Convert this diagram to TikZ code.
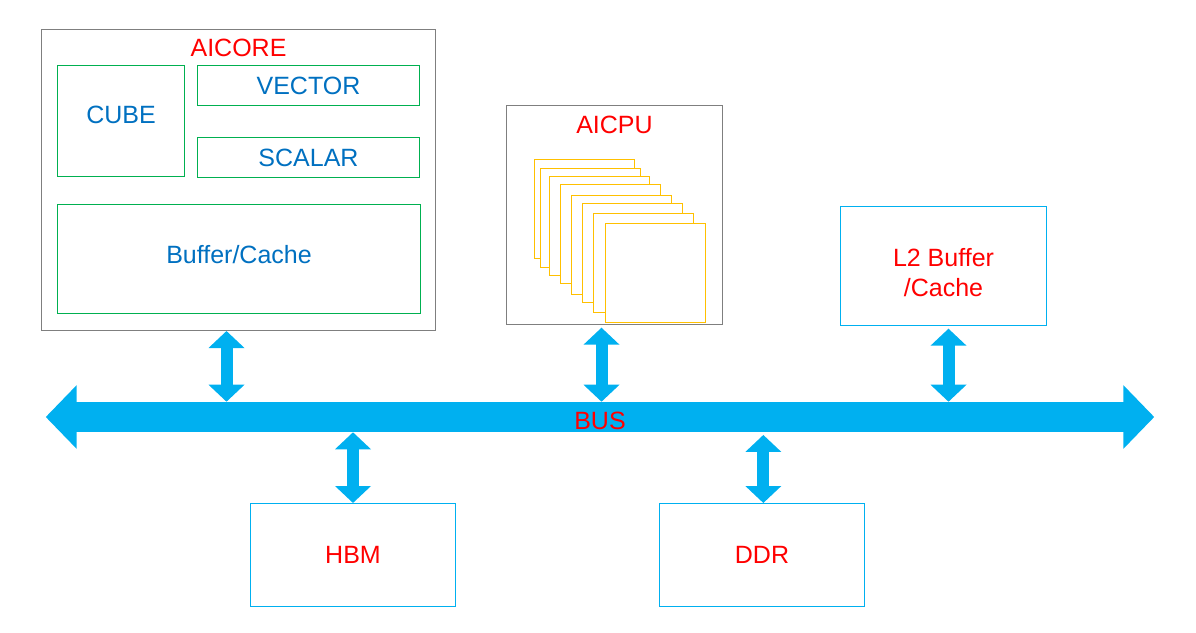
\documentclass[tikz,border=0pt]{standalone}
\usepackage{fontspec}
\setmainfont{Liberation Sans}
\usepackage{tikz}
\usetikzlibrary{arrows.meta}
\usetikzlibrary{positioning}
\definecolor{busblue}{HTML}{00B0F0}
\definecolor{txtblue}{HTML}{0070C0}
\definecolor{boxgreen}{HTML}{00B050}
\definecolor{coreyellow}{HTML}{FFC000}
\definecolor{boxgray}{HTML}{7F7F7F}
\tikzset{
  big font/.style={font=\fontsize{18.75}{22.5}\selectfont},
  outer box/.style={draw=boxgray,line width=0.75pt,anchor=north west,inner sep=0pt},
  unit box/.style={draw=boxgreen,line width=0.75pt,anchor=north west,inner sep=0pt,text=txtblue,big font},
  unit text/.style={text=txtblue,big font},
  mem box/.style={draw=busblue,line width=0.75pt,anchor=north west,inner sep=0pt,text=red,align=center,big font},
  core/.style={draw=coreyellow,fill=white,line width=0.75pt,anchor=north west,inner sep=0pt,minimum width=75pt,minimum height=74.25pt},
  title/.style={text=red,big font},
  link/.style={busblue,line width=9pt,{Triangle[width=26.25pt,length=12.75pt]}-{Triangle[width=26.25pt,length=12.75pt]}},
  bus/.style={busblue,line width=22.5pt,{Triangle[width=46.5pt,length=23.25pt]}-{Triangle[width=46.5pt,length=23.25pt]}}
}
\begin{document}
\begin{tikzpicture}[x=0.75pt,y=-0.75pt]
  \useasboundingbox (0,0) rectangle (1196,632);
  \node[outer box,minimum width=295.5pt,minimum height=225.75pt] (aicore) at (41,29) {};
  \node[title] (aicoret) at ([yshift=-14.25pt]aicore.north) {AICORE};
  \node[unit box,minimum width=95.25pt,minimum height=83.25pt,label={[unit text,yshift=4.5pt]center:CUBE}] (cube) at (57,65) {};
  \node[unit box,minimum width=166.5pt,minimum height=30pt] (vector) at (197,65) {VECTOR};
  \node[unit box,minimum width=166.5pt,minimum height=30pt] (scalar) at (197,137) {SCALAR};
  \node[unit box,minimum width=272.25pt,minimum height=81.75pt,label={[unit text,yshift=3pt]center:Buffer/Cache}] (buffer) at (57,204) {};
  \node[outer box,minimum width=162pt,minimum height=164.25pt] (aicpu) at (506,105) {};
  \node[title] (aicput) at ([yshift=-15pt]aicpu.north) {AICPU};
  \foreach \x/\y [count=\i] in {534/159,540/168,549/176,560/184,571/195,582/203,593/213,605/223}
    \node[core] (cpu\i) at (\x,\y) {};
  \node[mem box,minimum width=154.5pt,minimum height=89.25pt,label={[title,align=center,yshift=-5.25pt]center:L2 Buffer\\/Cache}] (l2) at (840,206) {};
  \node[mem box,minimum width=153.75pt,minimum height=77.25pt] (hbm) at (250,503) {HBM};
  \node[mem box,minimum width=153.75pt,minimum height=77.25pt] (ddr) at (659,503) {DDR};
  \node[inner sep=0pt,minimum width=831pt,minimum height=22.5pt] (bus) at (600,417) {};
  \draw[bus] (bus.west) -- (bus.east);
  \node[title] (bust) at ([yshift=-3pt]bus.center) {BUS};
  \draw[link] ([xshift=-9pt]aicore.south) -- ([xshift=-9pt]aicore.south |- bus.north);
  \draw[link] ([xshift=-9.75pt,yshift=-2pt]aicpu.south) -- ([xshift=-9.75pt]aicpu.south |- bus.north);
  \draw[link] ([xshift=3.75pt,yshift=-2pt]l2.south) -- ([xshift=3.75pt]l2.south |- bus.north);
  \draw[link] (hbm.north) -- (hbm.north |- bus.south);
  \draw[link] ([xshift=1pt]ddr.north) -- ([xshift=1pt,yshift=-2pt]ddr.north |- bus.south);
\end{tikzpicture}
\end{document}
